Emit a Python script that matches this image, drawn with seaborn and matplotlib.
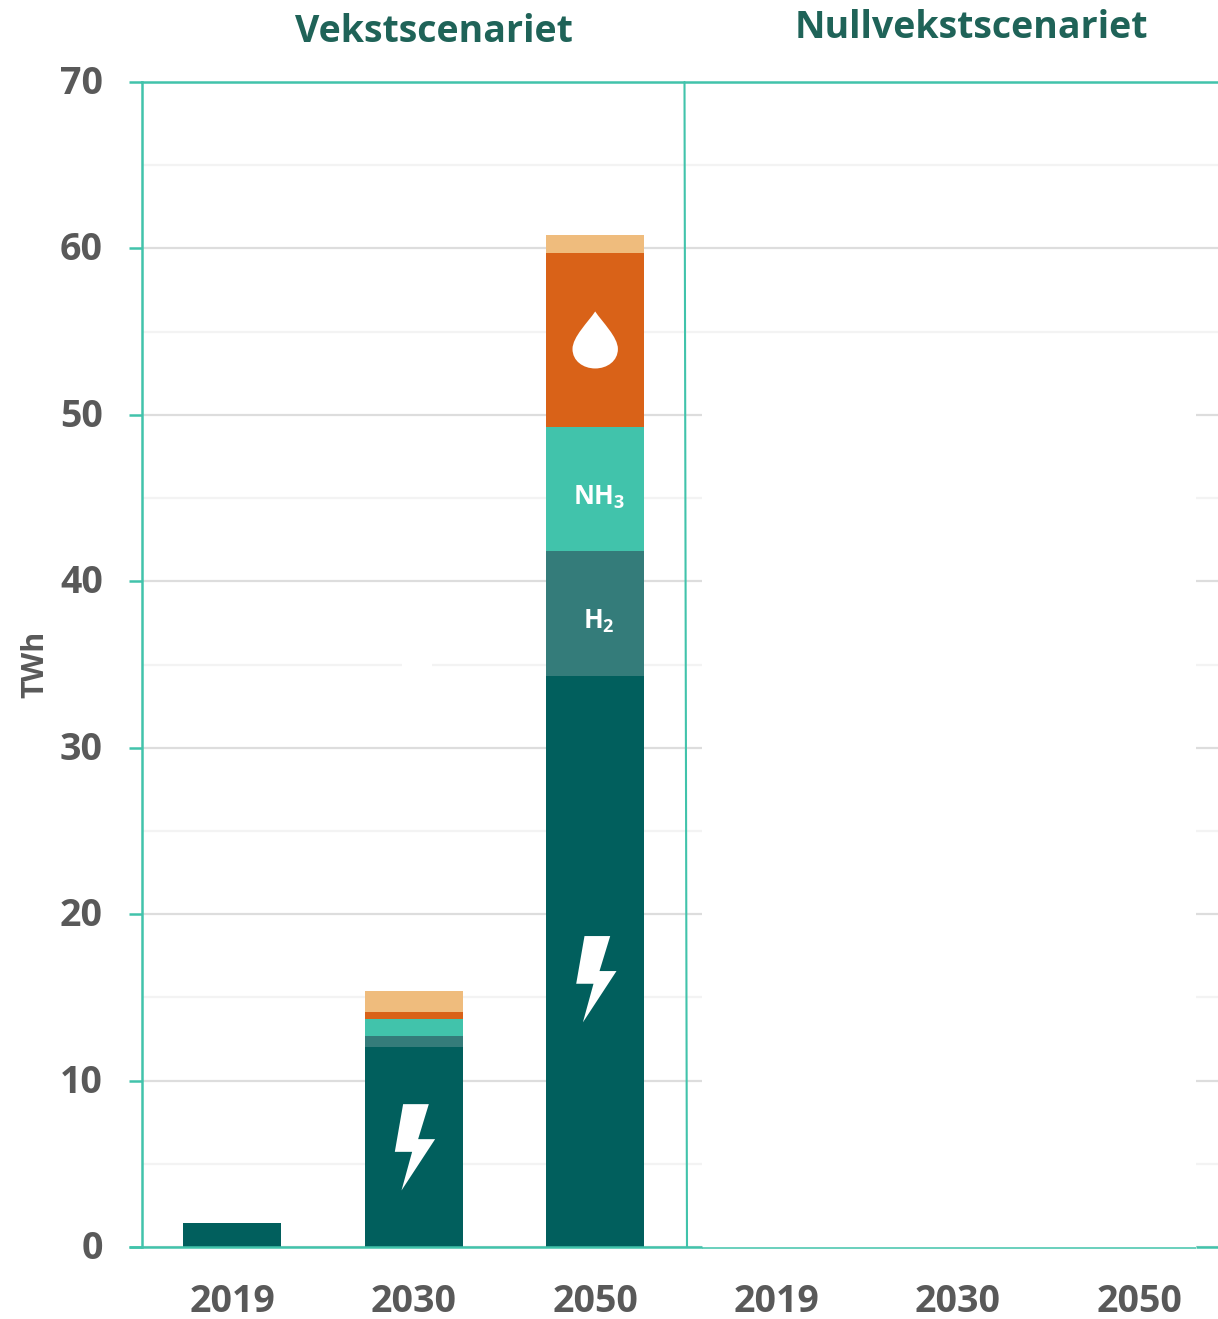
import numpy as np
import matplotlib
matplotlib.use("Agg")
import matplotlib.pyplot as plt
import seaborn as sns
from matplotlib.path import Path
from matplotlib.patches import PathPatch, Rectangle
from matplotlib.transforms import Affine2D, ScaledTranslation

# Energy demand per scenario and year, TWh
slots = ["V2019", "V2030", "V2050", "N2019", "N2030", "N2050"]
year_labels = ["2019", "2030", "2050", "2019", "2030", "2050"]
electricity = [1.45, 12.0, 34.3, 0, 0, 0]
hydrogen = [0, 0.7, 7.5, 0, 0, 0]
ammonia = [0, 1.0, 7.5, 0, 0, 0]
oil = [0, 0.4, 10.4, 0, 0, 0]
other = [0, 1.3, 1.1, 0, 0, 0]
series_colors = ["#015f5d", "#347c7a", "#41c3ab", "#d96218", "#efbc7d"]
major_ticks = [0, 10, 20, 30, 40, 50, 60, 70]
minor_ticks = [5, 15, 25, 35, 45, 55, 65]

W, H = 1218, 1319
TEAL = "#41c3ab"
TEXT = "#595959"
TITLE = "#1f6358"

sns.set_style("white")
plt.rcParams["font.family"] = ["Open Sans", "DejaVu Sans"]
plt.rcParams["mathtext.fontset"] = "custom"
plt.rcParams["mathtext.bf"] = "Open Sans:bold"
plt.rcParams["mathtext.rm"] = "Open Sans:bold"

fig = plt.figure(figsize=(W / 100, H / 100), dpi=100)
LEFT, RIGHT, TOP, BOTTOM = 142, 1218, 82, 1247
ax = fig.add_axes([LEFT / W, 1 - BOTTOM / H, (RIGHT - LEFT) / W, (BOTTOM - TOP) / H])


def ax_x(px):
    return (px - LEFT) / (RIGHT - LEFT)


def ax_y(py):
    return (BOTTOM - py) / (BOTTOM - TOP)


# Stacked bars, one seaborn layer per energy carrier
bottom = np.zeros(len(slots))
for values, color in zip([electricity, hydrogen, ammonia, oil, other], series_colors):
    sns.barplot(x=slots, y=values, order=slots, bottom=bottom, width=0.54, color=color,
                saturation=1, linewidth=0, errorbar=None, ax=ax)
    bottom = bottom + np.array(values)

ax.set_xlim(-0.4985, 5.4335)
ax.set_ylim(0, 70)
ax.set_xticks(range(len(slots)))
ax.set_xticklabels(year_labels)
ax.set_yticks(major_ticks)
ax.set_yticks(minor_ticks, minor=True)

# Gridlines sit behind a blank panel in the lower right part of the plot
ax.set_axisbelow(True)
ax.grid(True, which="major", axis="y", color="#dddddd", linewidth=1.6)
ax.grid(True, which="minor", axis="y", color="#f3f3f3", linewidth=1.6)
ax.grid(False, axis="x")
ax.add_patch(Rectangle((ax_x(702), 0), ax_x(1196) - ax_x(702), ax_y(340),
                       transform=ax.transAxes, facecolor="white", edgecolor="none", zorder=0.8))
ax.add_patch(Rectangle((ax_x(402), ax_y(668)), ax_x(432) - ax_x(402), ax_y(660) - ax_y(668),
                       transform=ax.transAxes, facecolor="white", edgecolor="none", zorder=0.8))

for side in ["right", "bottom"]:
    ax.spines[side].set_visible(False)
for side in ["left", "top"]:
    ax.spines[side].set_color(TEAL)
    ax.spines[side].set_linewidth(1.8)

ax.tick_params(axis="y", which="major", length=9.4, width=1.8, color=TEAL, pad=18,
               labelsize=27, labelcolor=TEXT, left=True)
ax.tick_params(axis="y", which="minor", length=0)
ax.tick_params(axis="x", which="major", length=0, pad=26, labelsize=27, labelcolor=TEXT)
for label in ax.get_xticklabels() + ax.get_yticklabels():
    label.set_fontweight("bold")
for label in ax.get_yticklabels():
    label.set_transform(label.get_transform() + Affine2D().translate(-1, 2.5))

ax.set_ylabel("TWh", fontsize=22, fontweight="bold", color=TEXT)
ax.yaxis.set_label_coords(ax_x(50), ax_y(664))

# Baseline: heavier under the first panel and at the far right, thin across the empty panel
for x0, x1, lw, y0 in [(129, 702, 1.8, 0), (702, 1196, 1.1, -0.05), (1196, 1218, 1.8, 0)]:
    ax.plot([ax_x(x0), ax_x(x1)], [ax_y(BOTTOM) + y0 / 70] * 2, color=TEAL, linewidth=lw,
            transform=ax.transAxes, clip_on=False, solid_capstyle="butt", zorder=3)

# Divider between the two scenarios
ax.plot([ax_x(684.5), ax_x(687)], [1, 0], color=TEAL, linewidth=1.5,
        transform=ax.transAxes, clip_on=False, zorder=3)

fig.text(434 / W, 1 - 32 / H, "Vekstscenariet", ha="center", va="center",
         fontsize=27, fontweight="bold", color=TITLE)
fig.text(971 / W, 1 - 27.5 / H, "Nullvekstscenariet", ha="center", va="center",
         fontsize=27, fontweight="bold", color=TITLE)

# Formula labels inside the 2050 stack
ax.text(2.02, 45.05, r"$\mathbf{NH_3}$", ha="center", va="center", color="white", fontsize=18.5)
ax.text(2.02, 37.6, r"$\mathbf{H_2}$", ha="center", va="center", color="white", fontsize=18.5)

# Icons are outlined in pixels around an anchor given in data units
BOLT = Path([(-10.7, -43), (15, -43), (4.3, -8), (21.3, -8), (-12.3, 43.3), (-1.7, 4.7),
             (-19, 4.7), (-10.7, -43)], closed=True)
DROP = Path(
    [(0, -28.5), (7, -18), (22.7, -3), (22.7, 9), (22.7, 21), (12, 28.5), (0, 28.5),
     (-12, 28.5), (-22.7, 21), (-22.7, 9), (-22.7, -3), (-7, -18), (0, -28.5), (0, -28.5)],
    [Path.MOVETO, Path.CURVE4, Path.CURVE4, Path.CURVE4, Path.CURVE4, Path.CURVE4, Path.CURVE4,
     Path.CURVE4, Path.CURVE4, Path.CURVE4, Path.CURVE4, Path.CURVE4, Path.CURVE4, Path.CLOSEPOLY])


def place_icon(shape, slot, value):
    anchor = ScaledTranslation(slot, value, ax.transData)
    outline = Affine2D().scale(fig.dpi / 100, -fig.dpi / 100) + anchor
    ax.add_patch(PathPatch(shape, transform=outline, facecolor="white", edgecolor="none", zorder=4))


place_icon(BOLT, 1, 6.0)
place_icon(BOLT, 2, 16.1)
place_icon(DROP, 2, 54.5)

fig.savefig("out.png", dpi=100, facecolor="white")
